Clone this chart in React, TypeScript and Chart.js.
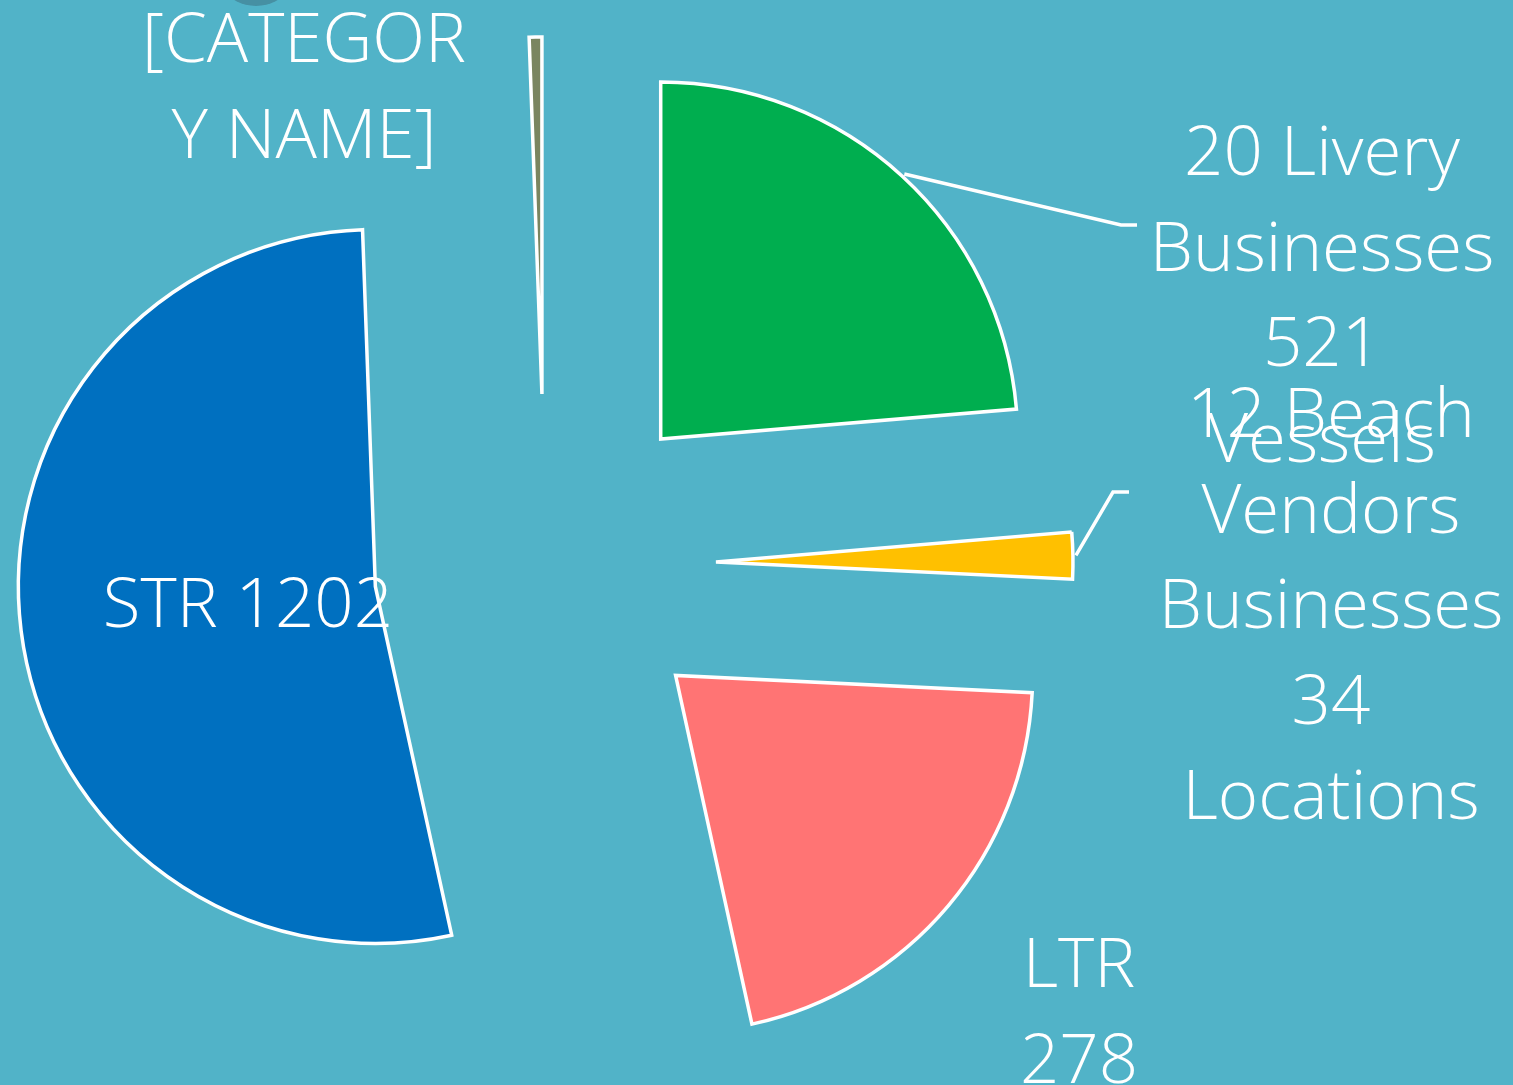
import React, { useEffect, useRef } from "react";
import { Chart, registerables } from "chart.js";

Chart.register(...registerables);

// ---- data ----
const categories = [
  "20 Livery Businesses 521 Vessels",
  "12 Beach Vendors Businesses 34 Locations",
  "LTR 278",
  "STR 1202",
  "[CATEGORY NAME]",
];
// slice sizes
const sliceValues = [538, 48, 473, 1202, 13];
const sliceColors = ["#00AE4F", "#FFC000", "#FF7474", "#0070C0", "#7A8560"];
const labelLines = [
  ["20 Livery", "Businesses", "521", "Vessels"],
  ["12 Beach", "Vendors", "Businesses", "34", "Locations"],
  ["LTR", "278"],
  ["STR 1202"],
  ["[CATEGOR", "Y NAME]"],
];

// ---- layout / style ----
const W = 1513;
const H = 1085;
const BG = "#51B3C8";
const RADIUS = 357;
const EXPLODE = 171;
const CX = 545;
const CY = 565;
const FONT = '300 69px "Open Sans"';
const LINE_H = 95.5;
const labelPos: [number, number][] = [
  [1322, 175],
  [1331, 437],
  [1079, 987],
  [248, 627],
  [304, 62],
];
const leaderElbows: ([number, number][] | null)[] = [
  [[1121, 225], [1137, 225]],
  [[1113, 492], [1129, 492]],
  null,
  null,
  null,
];

const explodePlugin = {
  id: "explodeArcs",
  beforeDatasetDraw(chart: any, args: any) {
    const ctx = chart.ctx;
    args.meta.data.forEach((arc: any) => {
      const mid = (arc.startAngle + arc.endAngle) / 2;
      ctx.save();
      ctx.translate(Math.cos(mid) * EXPLODE, Math.sin(mid) * EXPLODE);
      arc.draw(ctx, chart.chartArea);
      ctx.restore();
    });
    return false;
  },
};

const labelPlugin = {
  id: "sliceLabels",
  beforeDraw(chart: any) {
    const ctx = chart.ctx;
    ctx.save();
    ctx.fillStyle = BG;
    ctx.fillRect(0, 0, chart.width, chart.height);
    // small cut-off object at the top edge
    ctx.fillStyle = "#4690A3";
    ctx.beginPath();
    ctx.ellipse(256, -9, 27, 15, 0, 0, Math.PI * 2);
    ctx.fill();
    ctx.restore();
  },
  afterDatasetsDraw(chart: any) {
    const ctx = chart.ctx;
    const meta = chart.getDatasetMeta(0);
    ctx.save();
    // leader lines
    ctx.strokeStyle = "#FFFFFF";
    ctx.lineWidth = 3.5;
    ctx.lineJoin = "miter";
    meta.data.forEach((arc: any, i: number) => {
      const elb = leaderElbows[i];
      if (!elb) return;
      const mid = (arc.startAngle + arc.endAngle) / 2;
      const r = arc.outerRadius + 3;
      const sx = arc.x + Math.cos(mid) * (EXPLODE + r);
      const sy = arc.y + Math.sin(mid) * (EXPLODE + r);
      ctx.beginPath();
      ctx.moveTo(sx, sy);
      elb.forEach(([x, y]) => ctx.lineTo(x, y));
      ctx.stroke();
    });
    // labels
    ctx.fillStyle = "#FFFFFF";
    ctx.font = FONT;
    ctx.textAlign = "center";
    ctx.textBaseline = "alphabetic";
    labelLines.forEach((lines, i) => {
      const [x, y] = labelPos[i];
      lines.forEach((t, k) => ctx.fillText(t, x, y + k * LINE_H));
    });
    ctx.restore();
  },
};

export default function App() {
  const ref = useRef<HTMLCanvasElement | null>(null);
  useEffect(() => {
    if (!ref.current) return;
    const chart = new Chart(ref.current, {
      type: "pie",
      data: {
        labels: categories,
        datasets: [
          {
            data: sliceValues,
            backgroundColor: sliceColors,
            borderColor: "#FFFFFF",
            borderWidth: 3.5,
            borderJoinStyle: "miter",
            offset: 0,
            hoverOffset: 0,
          } as any,
        ],
      },
      options: {
        animation: false,
        responsive: false,
        events: [],
        radius: RADIUS,
        rotation: 0,
        layout: {
          padding: {
            left: 0,
            top: 2 * CY - H,
            right: W - 2 * CX,
            bottom: 0,
          },
        },
        plugins: {
          legend: { display: false },
          tooltip: { enabled: false },
          title: { display: false },
        },
      } as any,
      plugins: [labelPlugin, explodePlugin],
    });
    return () => chart.destroy();
  }, []);
  return (
    <div style={{ position: "absolute", left: 0, top: 0, width: W, height: H, background: BG }}>
      <canvas ref={ref} width={W} height={H} style={{ width: W, height: H, display: "block" }} />
    </div>
  );
}
